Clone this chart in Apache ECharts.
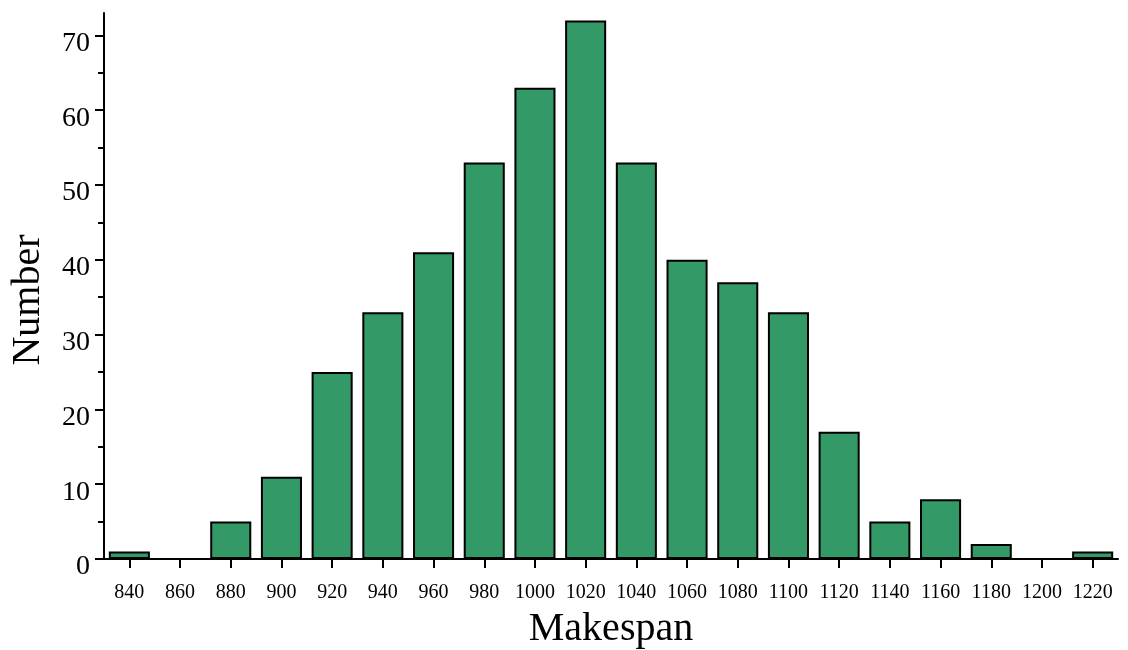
<!DOCTYPE html>
<html>
<head>
<meta charset="utf-8">
<script src="https://cdn.jsdelivr.net/npm/echarts@6/dist/echarts.min.js"></script>
<style>
  html, body { margin: 0; padding: 0; background: #fff; }
  #main { width: 1128px; height: 650px; }
</style>
</head>
<body>
<div id="main"></div>
<script>
const makespans = ["840", "860", "880", "900", "920", "940", "960", "980", "1000", "1020",
  "1040", "1060", "1080", "1100", "1120", "1140", "1160", "1180", "1200", "1220"];
const counts = [1, 0, 5, 11, 25, 33, 41, 53, 63, 72, 53, 40, 37, 33, 17, 5, 8, 2, 0, 1];
const majorTicks = [0, 10, 20, 30, 40, 50, 60, 70];
const minorTicks = [5, 15, 25, 35, 45, 55, 65];

const chart = echarts.init(document.getElementById("main"));
const serif = '"Liberation Serif", "DejaVu Serif", serif';

const option = {
  animation: false,
  textStyle: { fontFamily: serif },
  grid: { left: 104, right: 10, top: 13, bottom: 91, outerBoundsMode: "none" },
  xAxis: {
    type: "category",
    data: makespans,
    name: "Makespan",
    nameLocation: "middle",
    nameGap: 50,
    nameTextStyle: { fontSize: 40, color: "#000", fontFamily: serif },
    axisLine: { lineStyle: { color: "#000", width: 2 } },
    axisTick: { show: true, alignWithLabel: true, length: 9, lineStyle: { color: "#000", width: 2 } },
    axisLabel: { color: "#000", fontSize: 20, margin: 24, interval: 0, fontFamily: serif },
    splitLine: { show: false }
  },
  yAxis: [
    {
      type: "value",
      min: 0,
      max: 73,
      name: "Number",
      nameLocation: "middle",
      nameGap: 56,
      nameTextStyle: { fontSize: 40, color: "#000", fontFamily: serif, padding: [0, 28, 0, 0] },
      axisLine: { show: true, lineStyle: { color: "#000", width: 2 } },
      axisTick: { show: true, length: 9, customValues: majorTicks, lineStyle: { color: "#000", width: 2 } },
      axisLabel: { color: "#000", fontSize: 28, margin: 14, customValues: majorTicks,
        verticalAlign: "top", lineHeight: 16, fontFamily: serif },
      splitLine: { show: false }
    },
    {
      type: "value",
      min: 0,
      max: 73,
      position: "left",
      axisLine: { show: false },
      axisTick: { show: true, length: 6, customValues: minorTicks, lineStyle: { color: "#000", width: 2 } },
      axisLabel: { show: false },
      splitLine: { show: false }
    }
  ],
  series: [
    {
      type: "bar",
      data: counts,
      barCategoryGap: "19%",
      itemStyle: { color: "#339966", borderColor: "#000", borderWidth: 2 }
    }
  ]
};

chart.setOption(option);
</script>
</body>
</html>
